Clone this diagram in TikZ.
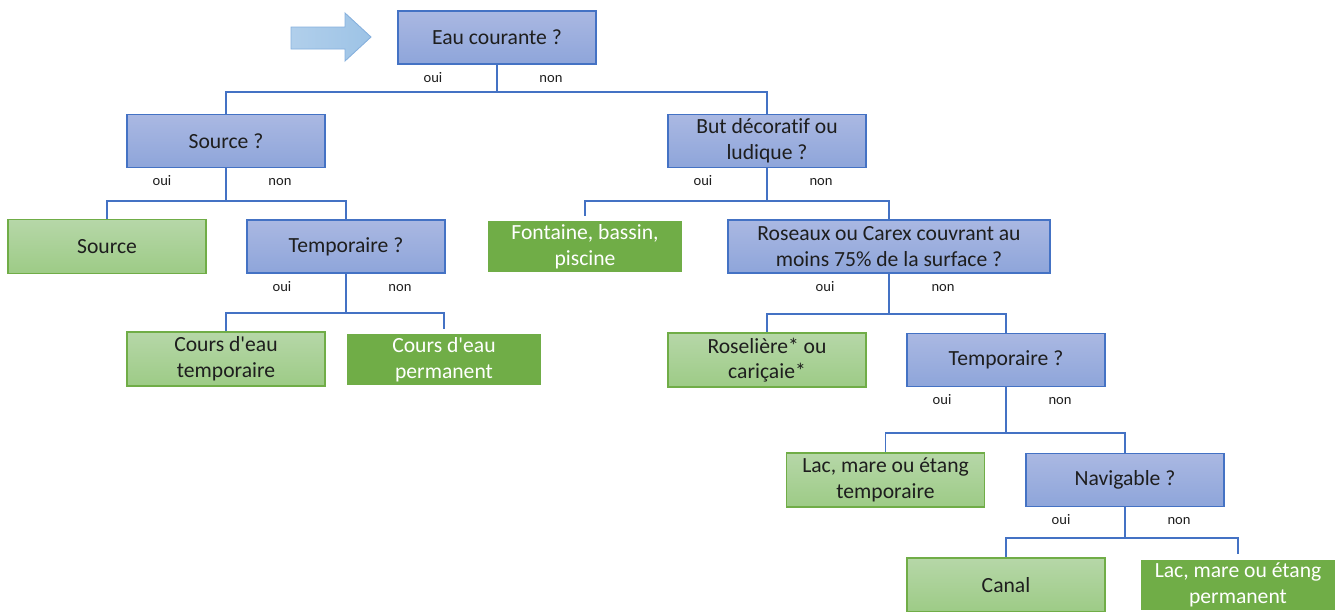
\documentclass[tikz,border=0pt]{standalone}
\usepackage{fontspec}
\setmainfont{Carlito}[Ligatures={NoCommon}]
\usepackage{xcolor}
\usepackage{tikz}
\usetikzlibrary{positioning}

\definecolor{qborder}{HTML}{4472C4}
\definecolor{qtop}{HTML}{AAB8E2}
\definecolor{qbot}{HTML}{8EA5DA}
\definecolor{gborder}{HTML}{70AD47}
\definecolor{gtop}{HTML}{B6D7A8}
\definecolor{gbot}{HTML}{9DCB86}
\definecolor{gdark}{HTML}{70AD47}
\definecolor{arrowfill}{HTML}{9DC3E6}
\definecolor{arrowline}{HTML}{86B0DD}
\definecolor{txt}{HTML}{1E1E1E}

\tikzset{
    box/.style={rectangle, minimum width=3.96cm, minimum height=1.06cm,
        align=center, inner sep=2pt, text=txt,
        font=\fontsize{12.3}{14.6}\selectfont},
    question/.style={box, draw=qborder, line width=0.7pt,
        top color=qtop, bottom color=qbot},
    answer/.style={box, draw=gborder, line width=0.7pt,
        top color=gtop, bottom color=gbot, minimum height=1.08cm},
    final/.style={box, fill=gdark, text=white, minimum width=3.88cm,
        minimum height=1.0cm, outer sep=3pt},
    link/.style={draw=qborder, line width=1.1pt},
    lbl/.style={font=\fontsize{8.3}{9.5}\selectfont, text=txt, inner sep=0pt,
        text height=0.75em, text depth=0pt}
}

\begin{document}
\begin{tikzpicture}[x=0.02cm, y=-0.02cm]
    \useasboundingbox (0,0) rectangle (1339,612);

    % Fleche de depart
    \draw[left color=arrowfill!80!white, right color=arrowfill,
        draw=arrowline, line width=0.5pt]
        (291,27) -- (345,27) -- (345,13) -- (371,37) -- (345,61)
        -- (345,49) -- (291,49) -- cycle;

    % Questions
    \node[question] (eau) at (497,37.5) {Eau courante ?};
    \node[question] (source) at (226,141) {Source ?};
    \node[question] (but) at (767,141) {But décoratif ou\\ludique ?};
    \node[question] (temp) at (346,246.5) {Temporaire ?};
    \node[question, minimum width=6.44cm] (roseaux) at (889,246.5)
        {Roseaux ou Carex couvrant au\\moins 75\% de la surface ?};
    \node[question] (temp2) at (1006,360) {Temporaire ?};
    \node[question] (nav) at (1125,480) {Navigable ?};

    % Reponses
    \node[answer] (src) at (107,246.5) {Source};
    \node[answer] (coursT) at (226,359) {Cours d\textquotesingle eau\\temporaire};
    \node[final] (coursP) at (444,359.5) {Cours d\textquotesingle eau\\permanent};
    \node[final] (fontaine) at (585,246.5) {Fontaine, bassin,\\piscine};
    \node[answer] (roseliere) at (767,360) {Roselière* ou\\cariçaie*};
    \node[answer] (lacT) at (885.5,480) {Lac, mare ou étang\\temporaire};
    \node[answer] (canal) at (1006,585) {Canal};
    \node[final] (lacP) at (1238,585) {Lac, mare ou étang\\permanent};

    % Branches
    \draw[link] (eau.south) -- ++(0,27) coordinate (j1);
    \draw[link] (j1) -| (source.north);
    \draw[link] (j1) -| (but.north);

    \draw[link] (source.south) -- ++(0,33) coordinate (j2);
    \draw[link] (j2) -| (src.north);
    \draw[link] (j2) -| (temp.north);

    \draw[link] (temp.south) -- ++(0,39) coordinate (j3);
    \draw[link] (j3) -| (coursT.north);
    \draw[link] (j3) -| (coursP.north);

    \draw[link] (but.south) -- ++(0,33) coordinate (j4);
    \draw[link] (j4) -| (fontaine.north);
    \draw[link] (j4) -| (roseaux.north);

    \draw[link] (roseaux.south) -- ++(0,40) coordinate (j5);
    \draw[link] (j5) -| (roseliere.north);
    \draw[link] (j5) -| (temp2.north);

    \draw[link] (temp2.south) -- ++(0,46) coordinate (j6);
    \draw[link] (j6) -| (lacT.north);
    \draw[link] (j6) -| (nav.north);

    \draw[link] (nav.south) -- ++(0,31) coordinate (j7);
    \draw[link] (j7) -| (canal.north);
    \draw[link] (j7) -| (lacP.north);

    % oui / non
    \foreach \q in {eau,source,temp,but,roseaux,temp2,nav} {
        \node[lbl] (oui-\q) at ([shift={(-64,11)}]\q.south) {oui};
        \node[lbl] (non-\q) at ([shift={(54,11)}]\q.south) {non};
    }

\end{tikzpicture}
\end{document}
